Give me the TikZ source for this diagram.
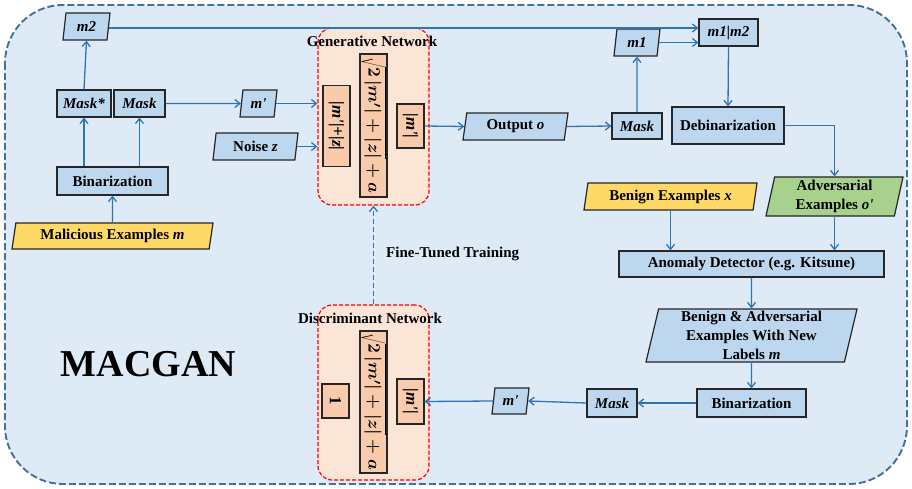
\documentclass[tikz,border=0pt]{standalone}
\usepackage{fontspec}
\usepackage{graphicx}
\setmainfont{Liberation Serif}
\usetikzlibrary{shapes.geometric,arrows.meta}
\definecolor{panel}{HTML}{DEEAF6}
\definecolor{panelline}{HTML}{41719C}
\definecolor{boxblue}{HTML}{BDD7EE}
\definecolor{boxyellow}{HTML}{FFD966}
\definecolor{boxgreen}{HTML}{A9D18E}
\definecolor{netfill}{HTML}{FBE5D6}
\definecolor{cellfill}{HTML}{F8CBAD}
\definecolor{flow}{HTML}{2E75B6}
\newcommand{\pr}{\textquotesingle}
\tikzset{
  base/.style={draw=black!85, line width=1.2pt, inner sep=1pt,
    font=\fontsize{15}{19}\selectfont\bfseries, align=center},
  blk/.style={base, rectangle, fill=boxblue},
  para/.style={base, trapezium, trapezium left angle=76, trapezium right angle=104,
    trapezium stretches body, fill=boxblue},
  cell/.style={base, rectangle, fill=cellfill},
  arr/.style={-{Straight Barb[length=5pt,width=8pt]}, draw=flow, line width=1.3pt},
  net/.style={draw=red, dash pattern=on 4pt off 2pt, line width=1.2pt, fill=netfill,
    rounded corners=14pt, inner sep=0pt},
  lbl/.style={font=\fontsize{15}{19}\selectfont\bfseries, inner sep=0pt},
  frm/.style={font=\fontsize{18}{20}\selectfont\bfseries}
}
\begin{document}
\begin{tikzpicture}[x=1pt,y=-1pt]
\useasboundingbox (0,0) rectangle (912,489);
% outer panel
\draw[panelline, line width=1.9pt, dash pattern=on 7pt off 3pt, fill=panel,
  rounded corners=58pt] (5,5) rectangle (907,484);

% network regions
\node[net, minimum width=111, minimum height=177] (gen) at (373.5,116.5) {};
\node[net, minimum width=111, minimum height=175] (disc) at (373.5,392.5) {};
\node[lbl] (genlbl) at (372,41) {Generative Network};
\node[lbl] (disclbl) at (370,318) {Discriminant Network};

% generative cells
\node[cell, minimum width=27, minimum height=81] (g1) at (336.5,126)
  {\rotatebox{-90}{\fontsize{17}{19}\selectfont\itshape |m\pr|+|z|}};
\node[cell, frm, minimum width=27, minimum height=143] (g2) at (373.5,125.5)
  {\rotatebox{-90}{\boldmath$\sqrt{2\,|m'|+|z|}+a$}};
\node[cell, minimum width=27, minimum height=44] (g3) at (410.5,126)
  {\rotatebox{-90}{\fontsize{17}{19}\selectfont\itshape |m\pr|}};

% discriminant cells
\node[cell, minimum width=27, minimum height=34] (d1) at (335.5,401)
  {\rotatebox{-90}{\fontsize{17}{19}\selectfont 1}};
\node[cell, frm, minimum width=27, minimum height=142] (d2) at (373.5,402)
  {\rotatebox{-90}{\boldmath$\sqrt{2\,|m'|+|z|}+a$}};
\node[cell, minimum width=27, minimum height=45] (d3) at (410.5,401.5)
  {\rotatebox{-90}{\fontsize{17}{19}\selectfont\itshape |m\pr|}};

% left column
\node[para, minimum width=47, minimum height=27] (m2) at (86.5,26.5) {\itshape m2};
\node[blk, minimum width=54, minimum height=27] (maskstar) at (84,103.5) {\itshape Mask*};
\node[blk, minimum width=51, minimum height=27] (maskl) at (139.5,103.5) {\itshape Mask};
\node[blk, minimum width=111, minimum height=28] (bin1) at (112.5,181) {Binarization};
\node[para, fill=boxyellow, minimum width=201, minimum height=26] (mal) at (112.5,236)
  {Malicious Examples \textit{m}};
\node[para, minimum width=37, minimum height=27] (mp1) at (258.5,103.5) {\itshape m\pr};
\node[para, minimum width=85, minimum height=27] (noise) at (255.5,146.5) {Noise \textit{z}};

% top right
\node[para, minimum width=105, minimum height=27] (out) at (515.5,126.5) {Output \textit{o}};
\node[blk, minimum width=50, minimum height=26] (maskr) at (637,126) {\itshape Mask};
\node[para, minimum width=46, minimum height=27] (m1) at (637,42.5) {\itshape m1};
\node[blk, minimum width=59, minimum height=27] (m1m2) at (728.5,32.5) {\itshape m1|m2};
\node[blk, minimum width=112, minimum height=37] (debin) at (728,125.5) {Debinarization};

% detection stage
\node[para, fill=boxgreen, minimum width=137, minimum height=39] (adv) at (834.5,196.5)
  {Adversarial\\Examples \textit{o\pr}};
\node[para, fill=boxyellow, minimum width=173, minimum height=27] (benign) at (670.5,196.5)
  {Benign Examples \textit{x}};
\node[blk, minimum width=265, minimum height=26] (ad) at (751.5,264)
  {Anomaly Detector (e.g. Kitsune)};
\node[para, minimum width=211, minimum height=53] (ba) at (751.5,335.5)
  {Benign \& Adversarial\\Examples With New\\Labels \textit{m}};
\node[blk, minimum width=109, minimum height=28] (bin2) at (751.5,403) {Binarization};
\node[blk, minimum width=50, minimum height=28] (mask2) at (612,403) {\itshape Mask};
\node[para, minimum width=37, minimum height=26] (mp2) at (510.5,401) {\itshape m\pr};

% titles
\node[font=\fontsize{38}{40}\selectfont\bfseries, inner sep=0pt] (title) at (148.5,364) {MACGAN};
\node[lbl, anchor=west] (ft) at (386,254) {Fine-Tuned Training};

% connectors
\draw[arr] (mal.north) -- (bin1.south);
\draw[arr] (maskstar.south |- bin1.north) -- (maskstar.south);
\draw[arr] (maskl.south |- bin1.north) -- (maskl.south);
\draw[arr] (maskstar.north) -- (m2.south);
\draw[arr] (maskl.east) -- (mp1.west);
\draw[arr] (mp1.east) -- (mp1.east -| gen.west);
\draw[arr] (noise.east) -- (noise.east -| gen.west);
\draw[arr] (g3.east) -- (out.west);
\draw[arr] (out.east) -- (maskr.west);
\draw[arr] (maskr.north) -- (m1.south);
\draw[arr] (m1.east) -- (m1.east -| m1m2.west);
\draw[arr] ([yshift=-1.5pt]m2.east) -- ([yshift=-1.5pt]m2.east -| m1m2.west);
\draw[arr] (m1m2.south) -- (debin.north);
\draw[arr] (debin.east) -| (adv.north);
\draw[arr] (benign.south) -- (benign.south |- ad.north);
\draw[arr] (adv.south) -- (adv.south |- ad.north);
\draw[arr] (ad.south) -- (ba.north);
\draw[arr] (ba.south) -- (bin2.north);
\draw[arr] (bin2.west) -- (mask2.east);
\draw[arr] (mask2.west) -- (mp2.east);
\draw[arr] (mp2.west) -- (d3.east);
\draw[arr, dash pattern=on 5pt off 3pt] (disc.north) -- (gen.south);
\end{tikzpicture}
\end{document}
